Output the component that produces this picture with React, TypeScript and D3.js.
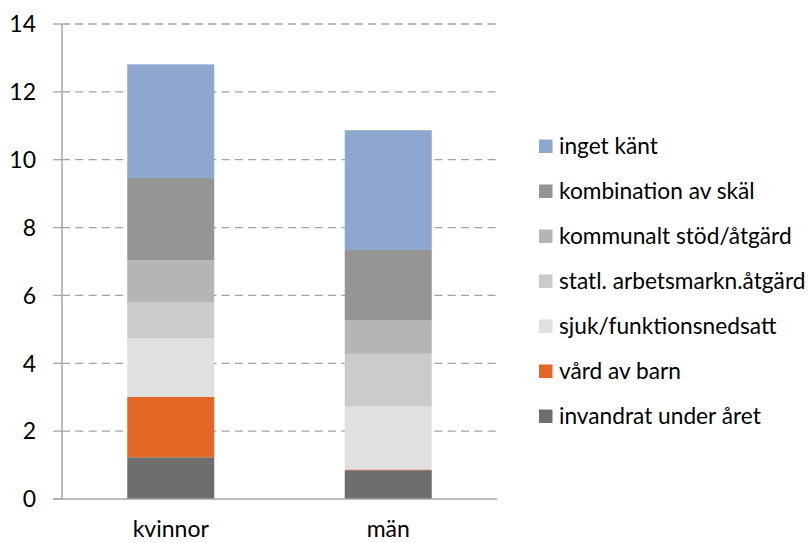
import React from 'react'
import {scaleLinear, scaleBand, stack} from 'd3'

const categories = ['kvinnor', 'män']
const seriesNames = [
    'invandrat under året',
    'vård av barn',
    'sjuk/funktionsnedsatt',
    'statl. arbetsmarkn.åtgärd',
    'kommunalt stöd/åtgärd',
    'kombination av skäl',
    'inget känt',
]
const kvinnorValues = [1.23, 1.78, 1.73, 1.05, 1.24, 2.43, 3.35]
const manValues = [0.85, 0.02, 1.86, 1.55, 0.98, 2.08, 3.53]
const colors = ['#6e6e6e', '#e46726', '#e0e0e0', '#cbcbcb', '#b5b5b5', '#959595', '#8ea7ce']
const yTicks = [0, 2, 4, 6, 8, 10, 12, 14]

const font = 'Lato, "Open Sans", sans-serif'

const App = () => {
    const width = 808
    const height = 543
    const left = 62
    const right = 497
    const top = 24
    const bottom = 499

    const x = scaleBand().domain(categories).range([left, right]).padding(0)
    const y = scaleLinear().domain([0, 14]).range([bottom, top])
    const barW = x.bandwidth() * 0.4

    const rows = categories.map((c, i) => {
        const vals = i === 0 ? kvinnorValues : manValues
        const row: any = {cat: c}
        seriesNames.forEach((s, j) => (row[s] = vals[j]))
        return row
    })
    const layers = stack().keys(seriesNames)(rows)

    const legendOrder = seriesNames.map((s, i) => i).reverse()

    return (
        <svg width={width} height={height} style={{position: 'absolute', left: 0, top: 0, background: '#fff'}}>
            {yTicks.filter(t => t > 0).map(t => (
                <line key={t} x1={left} x2={right} y1={y(t)} y2={y(t)}
                    stroke="#a3a3a3" strokeWidth={1.3} strokeDasharray="8,5.3" />
            ))}
            {layers.map((layer, i) => (
                <g key={i} fill={colors[i]}>
                    {layer.map((d: any, j) => (
                        <rect key={j} x={x(d.data.cat)! + (x.bandwidth() - barW) / 2}
                            y={y(d[1])} width={barW} height={y(d[0]) - y(d[1])} />
                    ))}
                </g>
            ))}
            <line x1={left} x2={left} y1={top} y2={bottom} stroke="#a6a6a6" strokeWidth={1.5} />
            <line x1={left - 9} x2={right} y1={bottom} y2={bottom} stroke="#a6a6a6" strokeWidth={1.5} />
            {yTicks.map(t => (
                <g key={t}>
                    <line x1={left - 9} x2={left} y1={y(t)} y2={y(t)} stroke="#a6a6a6" strokeWidth={1.3} />
                    <text x={36} y={y(t)} dy="0.36em" textAnchor="end" fontSize={23}
                        fontFamily={font} fill="#000">{t}</text>
                </g>
            ))}
            {categories.map(c => (
                <text key={c} x={x(c)! + x.bandwidth() / 2} y={537} textAnchor="middle"
                    fontSize={23} fontFamily={font} fill="#000">{c}</text>
            ))}
            {legendOrder.map((si, k) => (
                <g key={si} transform={`translate(539, ${146 + k * 45})`}>
                    <rect x={0} y={-6.5} width={13.5} height={13.5} fill={colors[si]} />
                    <text x={20} y={0} dy="0.36em" fontSize={22.7} fontFamily={font} fill="#000">
                        {seriesNames[si]}
                    </text>
                </g>
            ))}
        </svg>
    )
}

export default App
